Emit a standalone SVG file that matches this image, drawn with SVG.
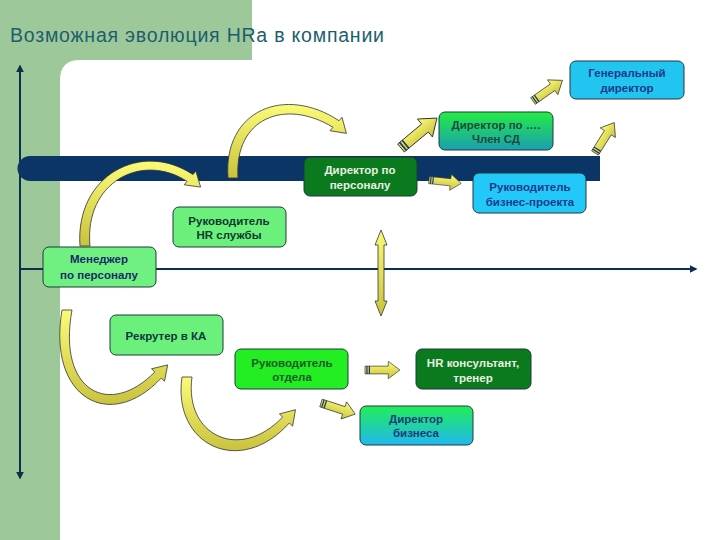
<svg xmlns="http://www.w3.org/2000/svg" xmlns:xlink="http://www.w3.org/1999/xlink" width="720" height="540" viewBox="0 0 720 540">
<defs>
<style>
.box{stroke:#1d3b3b;stroke-width:1}
.t{font-family:"Liberation Sans",Arial,sans-serif;font-size:11.5px;font-weight:bold;text-anchor:middle}
.ax{stroke:#0d2f4f;stroke-width:2;fill:none}
.arc{fill:url(#yel);stroke:#333;stroke-width:0.8}
</style>
<linearGradient id="yel" x1="0" y1="0" x2="0" y2="1">
<stop offset="0" stop-color="#fbfb78"/>
<stop offset="1" stop-color="#c9c23e"/>
</linearGradient>
<linearGradient id="gTeal" x1="0" y1="0" x2="0" y2="1">
<stop offset="0" stop-color="#24ec44"/>
<stop offset="1" stop-color="#1a9fb2"/>
</linearGradient>
<linearGradient id="gCyan" x1="0" y1="0" x2="0" y2="1">
<stop offset="0" stop-color="#22ee55"/>
<stop offset="1" stop-color="#20b8f0"/>
</linearGradient>
<marker id="ah" viewBox="0 0 10 10" refX="8" refY="5" markerWidth="4" markerHeight="4" orient="auto-start-reverse">
<path d="M0,0 L10,5 L0,10 Z" fill="#0d2f4f"/>
</marker>
<g id="blk">
<path d="M0,-4 L24,-4 L24,-9 L36,0 L24,9 L24,4 L0,4 Z" fill="url(#yel)" stroke="#333" stroke-width="0.7"/>
<path d="M2,-4 V4 M4.5,-4 V4" stroke="#1a3a6a" stroke-width="1.3"/>
</g>
</defs>

<g id="background">
<rect x="0" y="0" width="720" height="540" fill="#9dc89a"/>
<path d="M60,80 Q60,60 80,60 H252 V0 H720 V540 H60 Z" fill="#ffffff"/>
<text x="10" y="42" font-family="'Liberation Sans',Arial,sans-serif" font-size="19.5" fill="#1d5e6e" textLength="374" lengthAdjust="spacing">Возможная эволюция HRa в компании</text>
</g>

<g id="axes">
<line class="ax" x1="20" y1="478" x2="20" y2="66" marker-start="url(#ah)" marker-end="url(#ah)"/>
<line class="ax" x1="20" y1="269" x2="696" y2="269" marker-end="url(#ah)"/>
<path d="M30,156 H600 V181 H30 A12.5,12.5 0 0 1 30,156 Z" fill="#0b3566"/>
</g>

<g id="connectors">
<path class="arc" d="M228,178 C223,110 285,85 339,120.7 L342,117.3 L346.4,133.4 L330,130.7 L333,127.3 C285,98 234,118 238,178 Z"/>
<path class="arc" d="M80,246 C75,175 142,140 192.9,174.6 L195.9,171.2 L200.6,187.1 L184.1,184.8 L187.1,181.4 C142,152 84,182 90,246 Z"/>
<path class="arc" d="M62,310 C47,398 110,433 161.2,378.1 L164.5,381.2 L167.7,364.9 L151.5,368.8 L154.8,371.9 C110,418 57,392 72,310 Z"/>
<path class="arc" d="M182,377 C172,445 240,478 289.3,423 L292.6,426.1 L295.5,409.7 L279.4,413.9 L282.7,417 C240,462 184,436 192,377 Z"/>
<use href="#blk" transform="translate(401,148) rotate(-39.8) scale(1.3)"/>
<use href="#blk" transform="translate(533,101) rotate(-35) scale(1.0)"/>
<use href="#blk" transform="translate(429,180) rotate(6) scale(0.9)"/>
<use href="#blk" transform="translate(595,153) rotate(-57.7) scale(1.0)"/>
<use href="#blk" transform="translate(365,370) scale(0.97)"/>
<use href="#blk" transform="translate(321,403) rotate(18) scale(1.0)"/>
<path d="M381,230 L387,245 L384,245 L384,301 L387,301 L381,316 L375,301 L378,301 L378,245 L375,245 Z" fill="url(#yel)" stroke="#333" stroke-width="0.8"/>
</g>

<g id="n-gendir">
<rect class="box" x="570" y="61" width="114" height="38" rx="6" fill="#22c4f0"/>
<text class="t" fill="#1a3a8a"><tspan x="627" y="77">Генеральный</tspan><tspan x="627" y="92">директор</tspan></text>
</g>
<g id="n-dirpo">
<rect class="box" x="439" y="112" width="114" height="38" rx="6" fill="url(#gTeal)"/>
<text class="t" fill="#1d4a3a"><tspan x="496" y="129">Директор по ….</tspan><tspan x="496" y="143">Член СД</tspan></text>
</g>
<g id="n-dirpers">
<rect class="box" x="304" y="157" width="113" height="39" rx="6" fill="#0b7a1e"/>
<text class="t" fill="#e8f0e0"><tspan x="360" y="174">Директор по</tspan><tspan x="360" y="189">персоналу</tspan></text>
</g>
<g id="n-bizproj">
<rect class="box" x="473" y="173" width="113" height="40" rx="6" fill="#22c8f8"/>
<text class="t" fill="#1a3a8a"><tspan x="530" y="191">Руководитель</tspan><tspan x="530" y="206">бизнес-проекта</tspan></text>
</g>
<g id="n-hrhead">
<rect class="box" x="173" y="207" width="113" height="40" rx="6" fill="#6cf07c"/>
<text class="t" fill="#0d3a2e"><tspan x="229" y="225">Руководитель</tspan><tspan x="229" y="239">HR службы</tspan></text>
</g>
<g id="n-manager">
<rect class="box" x="43" y="247" width="113" height="40" rx="6" fill="#70f080"/>
<text class="t" fill="#1a2a6a"><tspan x="99" y="263">Менеджер</tspan><tspan x="99" y="279">по персоналу</tspan></text>
</g>
<g id="n-recruiter">
<rect class="box" x="110" y="315" width="113" height="40" rx="6" fill="#6cf07c"/>
<text class="t" fill="#0d3a3a"><tspan x="166" y="340">Рекрутер в КА</tspan></text>
</g>
<g id="n-dept">
<rect class="box" x="235" y="349" width="113" height="40" rx="6" fill="#22ee22"/>
<text class="t" fill="#1a5a2a"><tspan x="292" y="367">Руководитель</tspan><tspan x="292" y="381">отдела</tspan></text>
</g>
<g id="n-consult">
<rect class="box" x="416" y="349" width="115" height="40" rx="6" fill="#0b7a1e"/>
<text class="t" fill="#e8f0e0"><tspan x="473" y="367">HR консультант,</tspan><tspan x="473" y="382">тренер</tspan></text>
</g>
<g id="n-bizdir">
<rect class="box" x="360" y="406" width="113" height="39" rx="6" fill="url(#gCyan)"/>
<text class="t" fill="#1a3a7a"><tspan x="416" y="423">Директор</tspan><tspan x="416" y="437">бизнеса</tspan></text>
</g>
</svg>
